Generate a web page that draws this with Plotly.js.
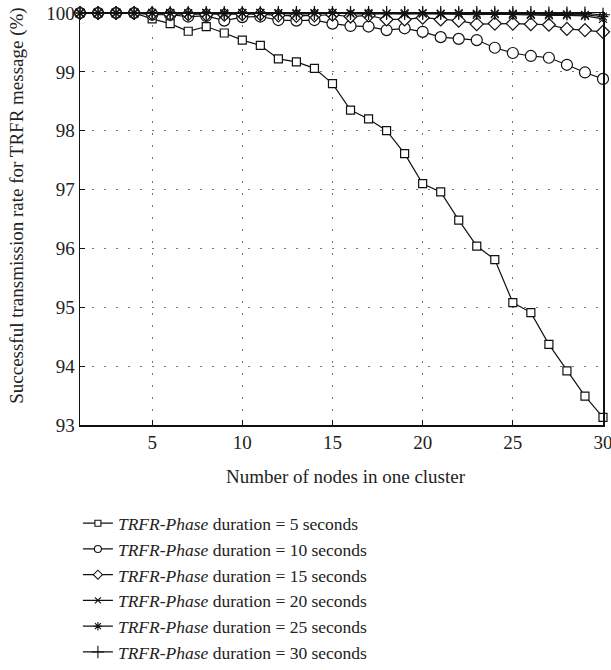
<!DOCTYPE html>
<html>
<head>
<meta charset="utf-8">
<script src="https://cdn.plot.ly/plotly-3.0.1.min.js"></script>
<style>html,body{margin:0;padding:0;background:#fff;}#chart{width:611px;height:670px;}</style>
</head>
<body>
<div id="chart"></div>
<script>
const nodes = [1,2,3,4,5,6,7,8,9,10,11,12,13,14,15,16,17,18,19,20,21,22,23,24,25,26,27,28,29,30];
const dur5  = [100,100,100,100,99.90,99.82,99.69,99.77,99.66,99.54,99.45,99.22,99.17,99.06,98.80,98.35,98.20,98.00,97.61,97.10,96.96,96.48,96.04,95.81,95.08,94.91,94.37,93.92,93.49,93.13];
const dur10 = [100,100,100,100,99.97,99.97,99.94,99.95,99.87,99.93,99.94,99.88,99.87,99.88,99.82,99.78,99.77,99.71,99.74,99.68,99.59,99.56,99.54,99.41,99.32,99.27,99.24,99.12,98.99,98.88];
const dur15 = [100,100,100,100,99.99,99.98,99.98,99.97,99.97,99.98,99.98,99.96,99.95,99.96,99.97,99.94,99.96,99.89,99.89,99.92,99.89,99.87,99.81,99.82,99.82,99.81,99.80,99.73,99.71,99.68];
const dur20 = [100,100,100,100,100,100,99.99,100,99.98,100,100,99.99,99.98,99.99,100,99.99,99.98,99.99,99.98,99.99,99.98,99.98,99.97,99.98,99.97,99.97,99.96,99.96,99.95,99.90];
const dur25 = [100,100,100,100,100,100,100,100,100,100,100,100,100,100,100,100,100,99.99,100,100,99.99,100,99.99,99.99,99.99,99.98,99.98,99.98,99.97,99.94];
const dur30 = [100,100,100,100,100,100,100,100,100,100,100,100,100,100,100,100,100,100,100,100,100,100,100,100,100,100,99.99,99.99,99.99,99.97];
const durations = [5,10,15,20,25,30];
const seriesList = [dur5, dur10, dur15, dur20, dur25, dur30];
const xTicks = [5,10,15,20,25,30];
const yTicks = [93,94,95,96,97,98,99,100];
const xTitle = 'Number of nodes in one cluster';
const yTitle = 'Successful transmission rate for TRFR message (%)';

const symbols = ['square','circle','diamond','x-thin-open','asterisk-open','cross-thin-open'];
const sizes = [8,11,10,8,9,10];
const legendSizes = [6,7,7,6,7,9];

const isOpen = s => s.endsWith('-open');

const traces = seriesList.map((vals, i) => ({
  x: nodes, y: vals, type: 'scatter', mode: 'lines+markers',
  showlegend: false,
  line: {color: '#111', width: 1.2},
  marker: {symbol: symbols[i], size: sizes[i], color: isOpen(symbols[i]) ? '#111' : '#fff',
           line: {color: '#111', width: 1.2}},
  cliponaxis: false
}));

// legend entries (no data, only legend swatches with smaller symbols)
const legendTraces = durations.map((d, i) => ({
  x: [null], y: [null], type: 'scatter', mode: 'lines+markers',
  name: '<i>TRFR-Phase</i> duration = ' + d + ' seconds',
  line: {color: '#111', width: 1.2},
  marker: {symbol: symbols[i], size: legendSizes[i], color: isOpen(symbols[i]) ? '#111' : '#fff',
           line: {color: '#111', width: 1.1}}
}));

const fontFam = '"Liberation Serif", "DejaVu Serif", serif';
const layout = {
  width: 611, height: 670,
  paper_bgcolor: '#fff', plot_bgcolor: '#fff',
  font: {family: fontFam, size: 19, color: '#222'},
  margin: {l: 80, r: 8, t: 13, b: 245, autoexpand: false},
  showlegend: true,
  legend: {x: -0.004, y: -0.195, xanchor: 'left', yanchor: 'top',
           font: {family: fontFam, size: 17.5, color: '#222'},
           itemwidth: 30,
           bgcolor: 'rgba(0,0,0,0)', tracegroupgap: 0},
  annotations: [
    {text: xTitle, xref: 'paper', yref: 'paper', x: 0.508, y: -0.124,
     xanchor: 'center', yanchor: 'middle', showarrow: false,
     font: {family: fontFam, size: 19, color: '#222'}},
    {text: yTitle, xref: 'paper', yref: 'paper', x: -0.1205, y: 0.532, textangle: -90,
     xanchor: 'center', yanchor: 'middle', showarrow: false,
     font: {family: fontFam, size: 19, color: '#222'}}
  ],
  xaxis: {
    range: [1, 30], tickvals: xTicks, ticktext: xTicks.map(String),
    ticks: 'inside', ticklen: 5, tickcolor: '#111',
    showline: true, linecolor: '#111', linewidth: 1.5, mirror: true,
    showgrid: true, gridcolor: '#777', gridwidth: 1, griddash: '1.5px,10.5px',
    zeroline: false, ticklabeloverflow: 'allow',
    tickfont: {family: fontFam, size: 19}
  },
  yaxis: {
    range: [93, 100], tickvals: yTicks, ticktext: yTicks.map(String),
    ticks: 'inside', ticklen: 5, tickcolor: '#111',
    showline: true, linecolor: '#111', linewidth: 1.5, mirror: true,
    showgrid: true, gridcolor: '#777', gridwidth: 1, griddash: '1.5px,10.5px',
    zeroline: false, ticklabeloverflow: 'allow',
    tickfont: {family: fontFam, size: 19}
  }
};

Plotly.newPlot('chart', traces.concat(legendTraces), layout, {displayModeBar: false, staticPlot: true});
</script>
</body>
</html>
